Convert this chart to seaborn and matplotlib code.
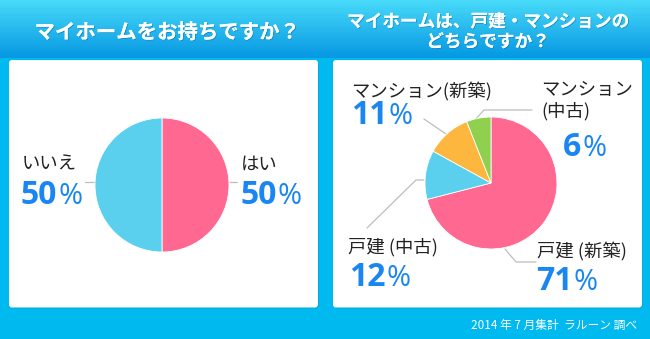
import numpy as np
import matplotlib
matplotlib.use("Agg")
import matplotlib.pyplot as plt
import matplotlib.patheffects as pe
from matplotlib.patches import FancyBboxPatch, Rectangle
import seaborn as sns

# Survey results
q1_title = "マイホームをお持ちですか？"
q1_labels = ["はい", "いいえ"]
q1_values = [50, 50]

q2_title = "マイホームは、戸建・マンションの\nどちらですか？"
q2_labels = ["戸建 (新築)", "戸建 (中古)", "マンション(新築)", "マンション\n(中古)"]
q2_values = [71, 12, 11, 6]

footer = "2014 年 7 月集計  ラルーン 調べ"

sns.set_theme(style="white")
JP = ["Noto Sans CJK JP", "DejaVu Sans"]
plt.rcParams["font.family"] = JP

pink, cyan, orange, green = sns.color_palette(["#FF6891", "#5BCFEE", "#FDB73E", "#8FD14F"])
frame = "#00B9EE"
blue = "#1A86F2"
ink = "#222222"
leader = "#BDBDBD"

W, H = 650, 339
fig = plt.figure(figsize=(W / 100, H / 100), dpi=100)

bg = fig.add_axes([0, 0, 1, 1])
bg.set_xlim(0, W)
bg.set_ylim(H, 0)
bg.axis("off")
bg.add_patch(Rectangle((0, 0), W, H, color=frame, zorder=0))

# Header gradient
grad = np.linspace(0, 1, 60)[:, None]
top = np.array([0x48, 0xDA, 0xF8]) / 255
bot = np.array([0x06, 0x98, 0xE2]) / 255
img = top + (bot - top) * grad[..., None]
img = np.repeat(img, 2, axis=1)
bg.imshow(img, extent=[0, W, 58, 0], aspect="auto", zorder=1, interpolation="bilinear")

# White panels
for x0, x1 in [(9, 318), (333, 642)]:
    bg.add_patch(FancyBboxPatch((x0 + 1, 61.5), x1 - x0, 247, boxstyle="round,pad=0,rounding_size=3",
                                fc="#0a8fc0", ec="none", alpha=0.35, zorder=2))
    bg.add_patch(FancyBboxPatch((x0, 60), x1 - x0, 247.5, boxstyle="round,pad=0,rounding_size=3",
                                fc="white", ec="none", zorder=3))

title_fx = [pe.withSimplePatchShadow(offset=(0.6, -0.6), shadow_rgbFace="#0b6ea8", alpha=0.6), pe.Normal()]
bg.text(167, 32, q1_title, ha="center", va="center", fontsize=14.7, fontweight="bold",
        color="white", zorder=5, path_effects=title_fx)
bg.text(488, 32, q2_title, ha="center", va="center", fontsize=12.7, fontweight="bold",
        color="white", linespacing=1.15, zorder=5, path_effects=title_fx)

bg.text(637, 325, footer, ha="right", va="center", fontsize=8.5, color="white", zorder=5)


def pie_axes(cx, cy, r, values, colors):
    ax = fig.add_axes([(cx - r) / W, (H - cy - r) / H, 2 * r / W, 2 * r / H])
    ax.pie(values, colors=colors, startangle=90, counterclock=False, radius=1,
           wedgeprops=dict(edgecolor="white", linewidth=0.6))
    ax.set_xlim(-1, 1)
    ax.set_ylim(-1, 1)
    ax.axis("off")
    return ax


ax1 = pie_axes(162, 185, 67, q1_values, [pink, cyan])
ax2 = pie_axes(491, 183, 66, q2_values, [pink, cyan, orange, green])

# Leader lines
lines = [
    [(85, 182), (95, 182)],
    [(229, 182), (237, 182)],
    [(505, 249), (516, 262), (536, 262)],
    [(424, 180), (416, 180), (367, 228)],
    [(424, 119), (446, 134)],
    [(474, 121), (484, 110), (532, 110)],
]
for pts in lines:
    xs, ys = zip(*pts)
    bg.plot(xs, ys, color=leader, lw=0.9, zorder=4)

fig.canvas.draw()
renderer = fig.canvas.get_renderer()


def value_label(x, y, v):
    t = bg.text(x, y, f"{v}", ha="left", va="center", fontsize=23, fontweight="bold",
                color=blue, family=["Open Sans", "DejaVu Sans"], zorder=6)
    bb = t.get_window_extent(renderer)
    x_end = bg.transData.inverted().transform((bb.x1, bb.y0))[0]
    bg.text(x_end + 1, y + 1, "%", ha="left", va="center", fontsize=21, fontweight="normal",
            color=blue, family=["Open Sans", "DejaVu Sans"], zorder=6)


def name_label(x, y, s, **kw):
    bg.text(x, y, s, ha="left", va="center", fontsize=13.2, color=ink, zorder=6, **kw)


# Left chart labels
name_label(241, 165, q1_labels[0])
value_label(240, 196, q1_values[0])
name_label(22, 165, q1_labels[1])
value_label(21, 196, q1_values[1])

# Right chart labels
name_label(537, 252, q2_labels[0])
value_label(536, 282, q2_values[0])
name_label(348, 247, q2_labels[1])
value_label(349, 278, q2_values[1])
name_label(351, 92, q2_labels[2])
value_label(351, 116, q2_values[2])
name_label(541, 101, q2_labels[3], linespacing=1.2)
value_label(563, 148, q2_values[3])

fig.savefig("out.png", dpi=100)
